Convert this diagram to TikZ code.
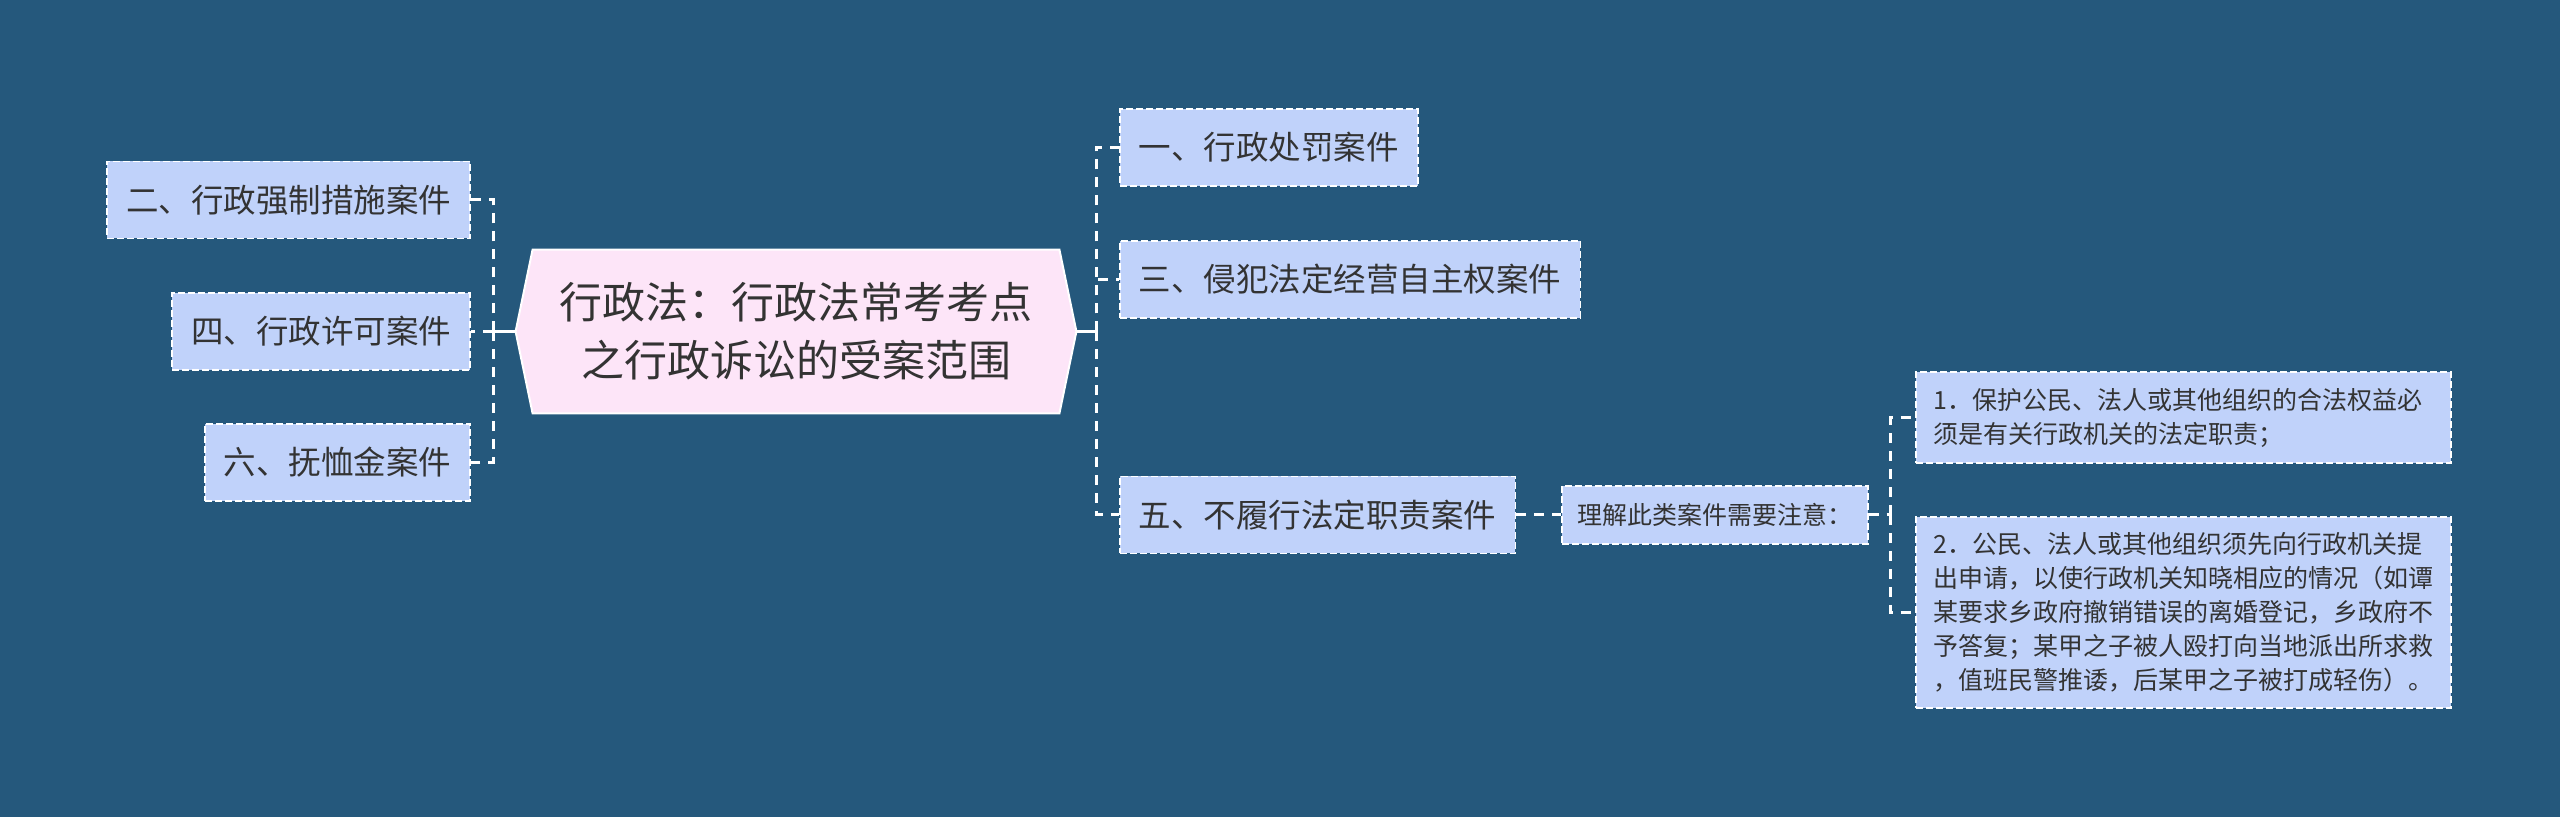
\documentclass[tikz,border=0pt]{standalone}
\usepackage{fontspec}
\newfontfamily\cjk{Noto Sans CJK SC}
\usetikzlibrary{backgrounds}
\definecolor{bg}{RGB}{37,88,124}
\definecolor{boxfill}{RGB}{192,210,250}
\definecolor{rootfill}{RGB}{253,229,248}
\definecolor{txt}{RGB}{51,51,51}
\begin{document}
\begin{tikzpicture}[x=0.5pt,y=-0.5pt,
  box/.style={draw=white, dash pattern=on 3.5pt off 1.5pt, line width=0.85pt, fill=boxfill, text=txt,
    font=\cjk\fontsize{16.25pt}{20pt}\selectfont, inner xsep=9.5pt, inner ysep=0pt, minimum height=38.5pt},
  small/.style={box, font=\cjk\fontsize{12.5pt}{17pt}\selectfont, inner xsep=7.75pt},
  link/.style={draw=white, line width=1.5pt, dash pattern=on 5pt off 4pt},
  rootlink/.style={draw=white, line width=1.4pt},
  rootbox/.style={text=txt, font=\cjk\fontsize{21.5pt}{29pt}\selectfont, align=center,
    minimum width=280pt, minimum height=81.5pt, inner sep=0pt}]

\useasboundingbox (0,0) rectangle (2560,817);

% root
\node[rootbox] (c) at (796,331.5) {行政法：行政法常考考点\\之行政诉讼的受案范围};
\begin{scope}[on background layer]
  \fill[bg] (0,0) rectangle (2560,817);
  \draw[fill=rootfill, draw=white, line width=1pt]
    (c.west) -- ([xshift=8.5pt]c.north west) -- ([xshift=-8.5pt]c.north east) -- (c.east)
    -- ([xshift=-8.5pt]c.south east) -- ([xshift=8.5pt]c.south west) -- cycle;
\end{scope}

% left branch
\node[box, anchor=east] (n2) at (471,200) {二、行政强制措施案件};
\node[box, anchor=east] (n4) at (471,331.5) {四、行政许可案件};
\node[box, anchor=east] (n6) at (471,462.5) {六、抚恤金案件};

% right branch
\node[box, anchor=west] (r1) at (1119,147.5) {一、行政处罚案件};
\node[box, anchor=west] (r3) at (1119,279.5) {三、侵犯法定经营自主权案件};
\node[box, anchor=west] (r5) at (1119,515) {五、不履行法定职责案件};

\node[small, anchor=west, minimum height=29pt] (u) at (1561,515) {理解此类案件需要注意：};

\node[small, anchor=west, text width=250pt, align=left, inner xsep=8.75pt, minimum height=45.5pt] (d1) at (1915,417.5)
  {1．保护公民、法人或其他组织的合法权益必\\须是有关行政机关的法定职责；};
\node[small, anchor=west, text width=250pt, align=left, inner xsep=8.75pt, minimum height=95.5pt] (d2) at (1915,612.5)
  {2．公民、法人或其他组织须先向行政机关提\\出申请，以使行政机关知晓相应的情况（如谭\\某要求乡政府撤销错误的离婚登记，乡政府不\\予答复；某甲之子被人殴打向当地派出所求救\\，值班民警推诿，后某甲之子被打成轻伤）。};

% junctions
\coordinate (jl) at (493,331.5);
\coordinate (jr) at (1096,331.5);
\coordinate (ju) at (1890,515);

% connectors
\draw[rootlink] (c.west) -- (jl);
\draw[link] (jl) |- (n2.east);
\draw[link] (jl) |- (n6.east);
\draw[link] (jl) -- (n4.east);

\draw[rootlink] (c.east) -- (jr);
\draw[link] (jr) |- (r1.west);
\draw[link] (jr) |- (r3.west);
\draw[link] (jr) |- (r5.west);

\draw[link] (r5.east) -- (u.west);
\draw[link] (u.east) -- (ju);
\draw[link] (ju) |- (d1.west);
\draw[link] (ju) |- (d2.west);
\end{tikzpicture}
\end{document}
